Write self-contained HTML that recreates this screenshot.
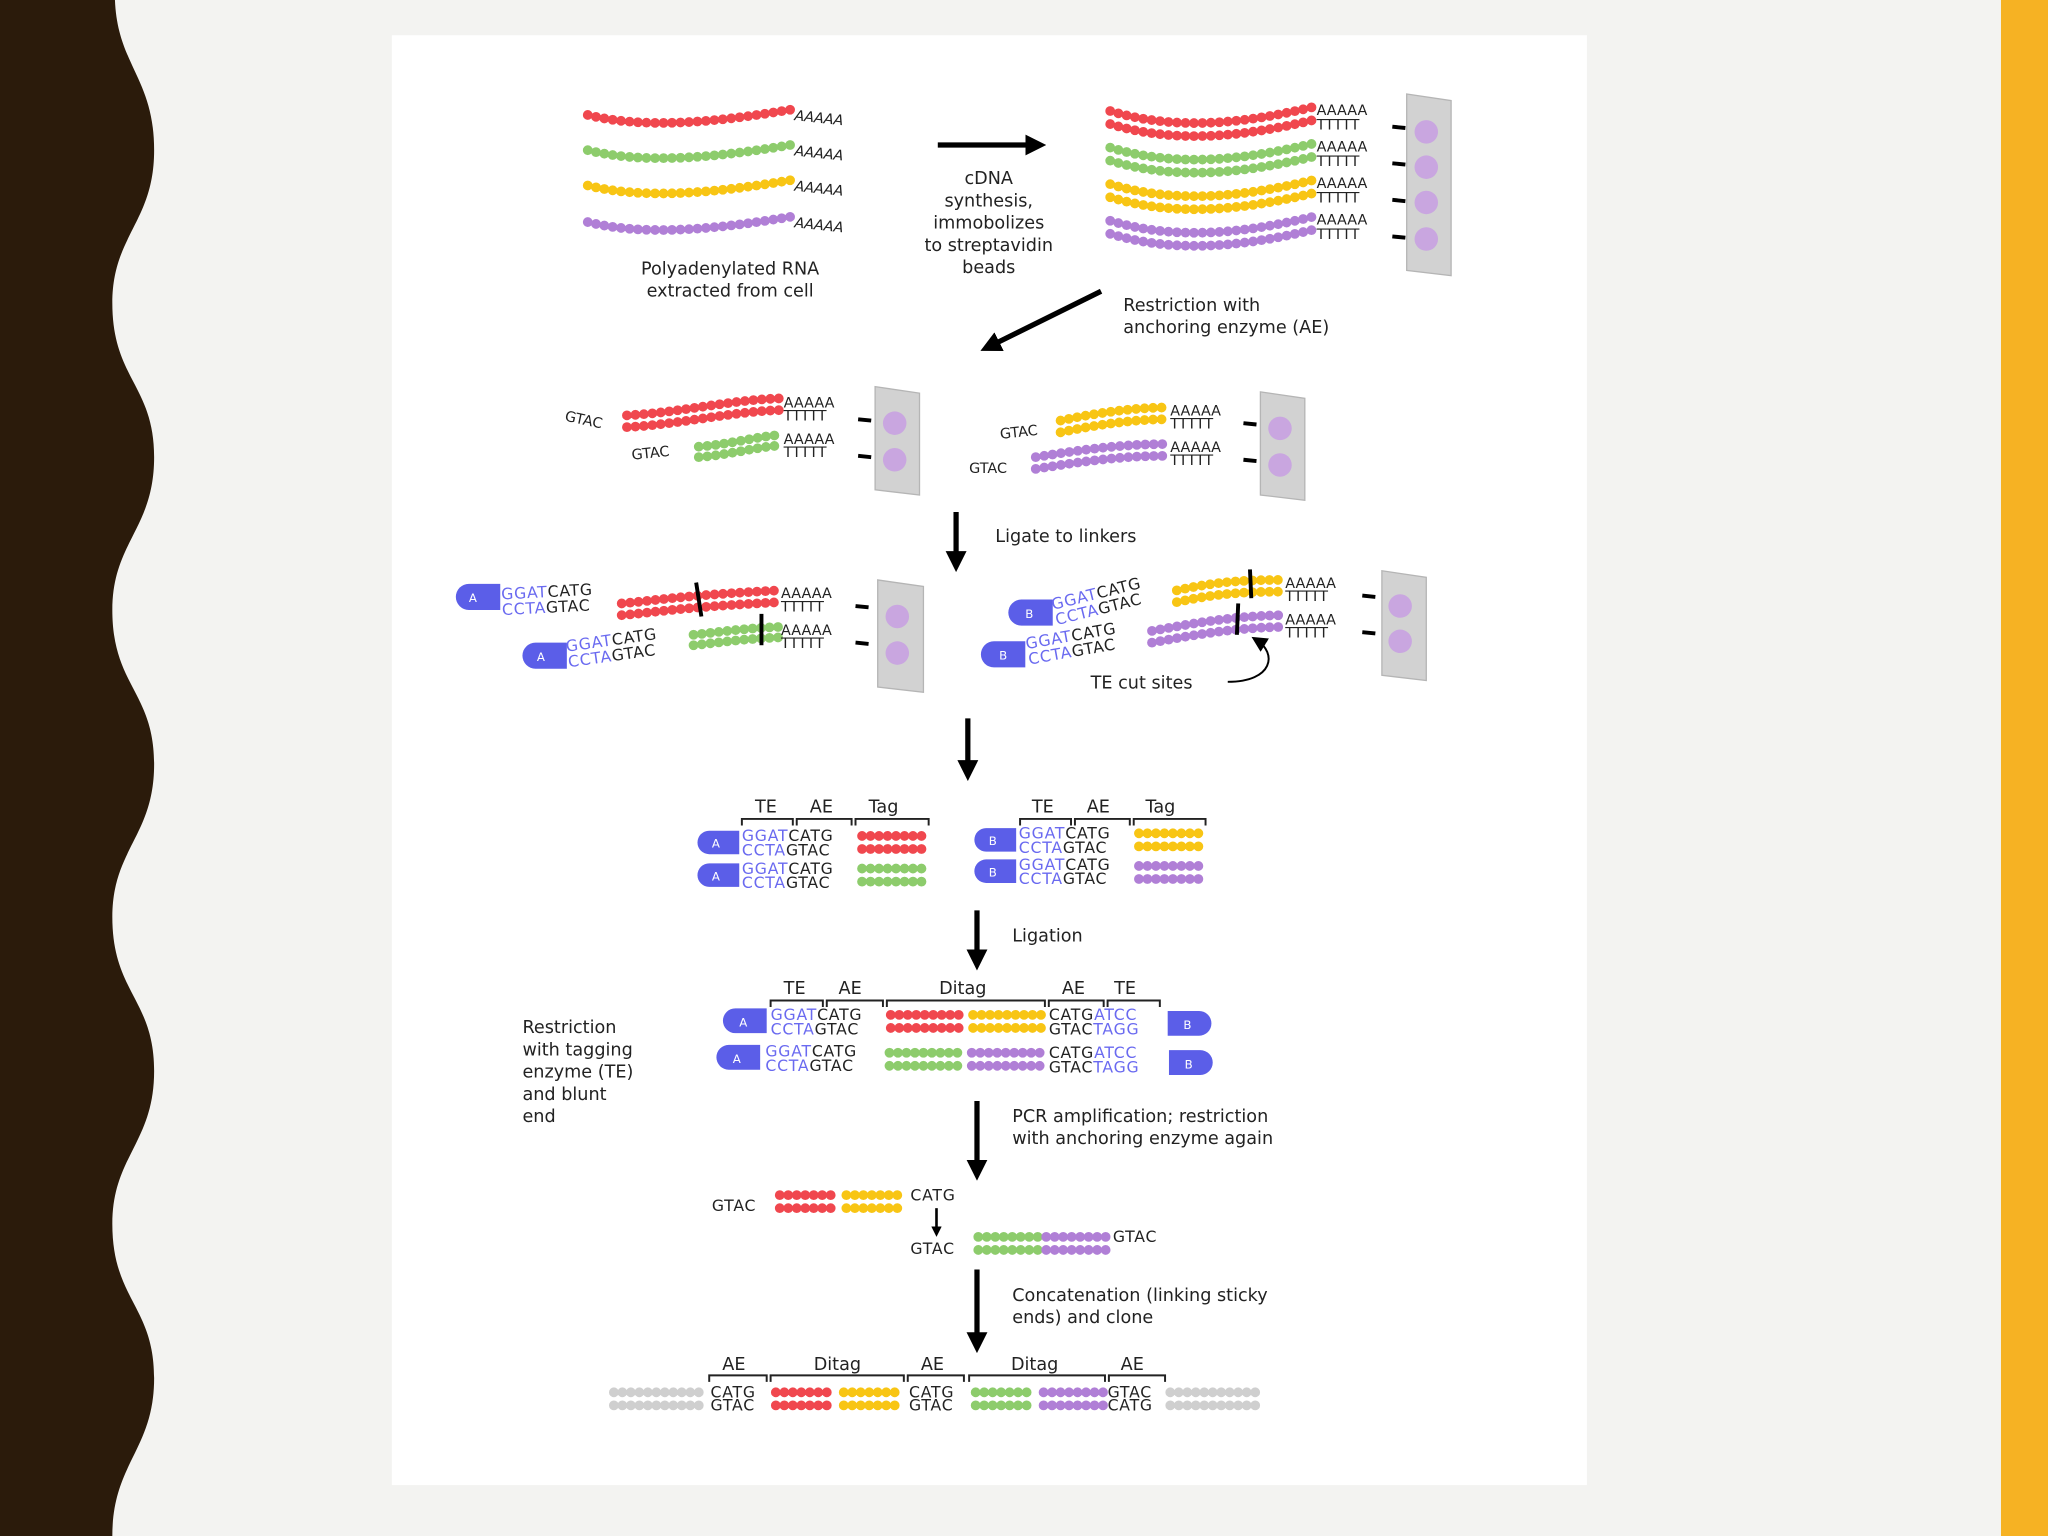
<!DOCTYPE html>
<html><head><meta charset="utf-8"><style>
html,body{margin:0;padding:0;background:#f3f3f1;}
svg{display:block}
text{font-family:"DejaVu Sans","Liberation Sans",sans-serif;fill:#222}
.s{fill:none;stroke-width:7.5;stroke-dasharray:0 6.5;stroke-linecap:round}
.r{stroke:#f0474e}.g{stroke:#8dcc6c}.y{stroke:#f8c514}.p{stroke:#b07fd6}.gr{stroke:#cfcfcf}
.t{font-size:13.5px}
.q{font-size:12px;letter-spacing:0.6px}
.b{fill:#6a6af0}
.cap{fill:#5b5ee8}
.plate{fill:#d2d2d2;stroke:#b5b5b5;stroke-width:1}
.bead{fill:#c9a6e0}
.br{fill:none;stroke:#222;stroke-width:1.5}
.ar{stroke:#000;stroke-width:4}
</style></head><body>
<svg width="2048" height="1536" viewBox="0 0 1568 1176" preserveAspectRatio="none" xmlns="http://www.w3.org/2000/svg">
<defs><marker id="ah" markerWidth="4" markerHeight="4" refX="2.5" refY="2" orient="auto" markerUnits="strokeWidth"><path d="M0,0 L4,2 L0,4 z" fill="#000"/></marker>
<marker id="ah2" markerWidth="8" markerHeight="8" refX="5" refY="4" orient="auto" markerUnits="strokeWidth"><path d="M0,0 L8,4 L0,8 z" fill="#000"/></marker></defs>
<rect width="1568" height="1176" fill="#f3f3f1"/>
<path d="M0,0 L88,0 C90,50 118,60 118,115 C118,170 86,180 86,232 C86,290 118,295 118,350 C118,405 86,415 86,467 C86,525 118,530 118,585 C118,640 86,650 86,702 C86,760 118,765 118,820 C118,875 86,885 86,937 C86,995 118,1000 118,1055 C118,1110 86,1120 86,1176 L0,1176 Z" fill="#2b1b0b"/>
<rect x="1532" y="0" width="36" height="1176" fill="#f6b223"/>
<rect x="300" y="27" width="915" height="1110" fill="#fff"/>

<g>
<path class="s r" d="M450,88 C490,98 540,95 605,84"/>
<path class="s g" d="M450,115 C490,125 540,122 605,111"/>
<path class="s y" d="M450,142 C490,152 540,149 605,138"/>
<path class="s p" d="M450,170 C490,180 540,177 605,166"/>
<text x="608" y="92" font-size="11" font-style="italic" transform="rotate(6 608 92)">AAAAA</text>
<text x="608" y="119" font-size="11" font-style="italic" transform="rotate(6 608 119)">AAAAA</text>
<text x="608" y="146" font-size="11" font-style="italic" transform="rotate(6 608 146)">AAAAA</text>
<text x="608" y="174" font-size="11" font-style="italic" transform="rotate(6 608 174)">AAAAA</text>
<text class="t" x="559" y="210" text-anchor="middle">Polyadenylated RNA</text>
<text class="t" x="559" y="227" text-anchor="middle">extracted from cell</text>
<line class="ar" x1="718" y1="111" x2="795" y2="111" marker-end="url(#ah)"/>
<g class="t" text-anchor="middle"><text x="757" y="141">cDNA</text><text x="757" y="158">synthesis,</text><text x="757" y="175">immobolizes</text><text x="757" y="192">to streptavidin</text><text x="757" y="209">beads</text></g>
</g>
<g>
<path class="s r" d="M850,85 C900,100 950,95 1005,82"/><path class="s r" d="M850,95 C900,110 950,105 1005,92"/>
<path class="s g" d="M850,113 C900,128 950,123 1005,110"/><path class="s g" d="M850,123 C900,138 950,133 1005,120"/>
<path class="s y" d="M850,141 C900,156 950,151 1005,138"/><path class="s y" d="M850,151 C900,166 950,161 1005,148"/>
<path class="s p" d="M850,169 C900,184 950,179 1005,166"/><path class="s p" d="M850,179 C900,194 950,189 1005,176"/>
<g font-size="11"><text x="1008" y="88">AAAAA</text><text x="1008" y="99">TTTTT</text>
<text x="1008" y="116">AAAAA</text><text x="1008" y="127">TTTTT</text>
<text x="1008" y="144">AAAAA</text><text x="1008" y="155">TTTTT</text>
<text x="1008" y="172">AAAAA</text><text x="1008" y="183">TTTTT</text></g>
<g stroke="#000" stroke-width="3"><line x1="1066" y1="97" x2="1076" y2="98"/><line x1="1066" y1="125" x2="1076" y2="126"/><line x1="1066" y1="153" x2="1076" y2="154"/><line x1="1066" y1="181" x2="1076" y2="182"/></g>
<path class="plate" d="M1077,72 L1111,77 L1111,211 L1077,207 Z"/>
<circle class="bead" cx="1092" cy="101" r="9"/><circle class="bead" cx="1092" cy="128" r="9"/><circle class="bead" cx="1092" cy="155" r="9"/><circle class="bead" cx="1092" cy="183" r="9"/>
</g>
<line class="ar" x1="843" y1="223" x2="756" y2="266" stroke-width="3.5" marker-end="url(#ah)"/>
<text class="t" x="860" y="238">Restriction with</text>
<text class="t" x="860" y="255">anchoring enzyme (AE)</text>

<g>
<text x="432" y="322" font-size="11" transform="rotate(12 432 322)">GTAC</text>
<path class="s r" d="M480,318 C520,316 560,306 598,305"/><path class="s r" d="M480,327 C520,325 560,315 598,314"/>
<text x="484" y="352" font-size="11" transform="rotate(-6 484 352)">GTAC</text>
<path class="s g" d="M535,342 C560,340 580,334 598,333"/><path class="s g" d="M535,350 C560,348 580,342 598,341"/>
<g font-size="11"><text x="600" y="312">AAAAA</text><text x="600" y="322">TTTTT</text><text x="600" y="340">AAAAA</text><text x="600" y="350">TTTTT</text></g>
<g stroke="#000" stroke-width="3"><line x1="657" y1="321" x2="667" y2="322"/><line x1="657" y1="349" x2="667" y2="350"/></g>
<path class="plate" d="M670,296 L704,301 L704,379 L670,375 Z"/>
<circle class="bead" cx="685" cy="324" r="9"/><circle class="bead" cx="685" cy="352" r="9"/>

<text x="766" y="336" font-size="11" transform="rotate(-6 766 336)">GTAC</text>
<path class="s y" d="M812,322 C840,316 870,312 893,312"/><path class="s y" d="M812,331 C840,325 870,321 893,321"/>
<text x="742" y="362" font-size="11">GTAC</text>
<path class="s p" d="M793,350 C830,344 860,340 893,340"/><path class="s p" d="M793,359 C830,353 860,349 893,349"/>
<g font-size="11"><text x="896" y="318">AAAAA</text><text x="896" y="328">TTTTT</text><text x="896" y="346">AAAAA</text><text x="896" y="356">TTTTT</text></g>
<g stroke="#000" stroke-width="3"><line x1="952" y1="324" x2="962" y2="325"/><line x1="952" y1="352" x2="962" y2="353"/></g>
<path class="plate" d="M965,300 L999,305 L999,383 L965,379 Z"/>
<circle class="bead" cx="980" cy="328" r="9"/><circle class="bead" cx="980" cy="356" r="9"/>
</g>
<line class="ar" x1="732" y1="392" x2="732" y2="432" marker-end="url(#ah)"/>
<text class="t" x="762" y="415">Ligate to linkers</text>

<g>
<path class="cap" d="M359,447 L383,447 L383,467 L359,467 A10,10 0 0 1 359,447 Z"/><text x="359" y="461" font-size="9" style="fill:#fff">A</text>
<g transform="rotate(-3 384 460)"><text class="q" x="384" y="459"><tspan class="b">GGAT</tspan>CATG</text><text class="q" x="384" y="471"><tspan class="b">CCTA</tspan>GTAC</text></g>
<path class="s r" d="M476,462 C500,460 520,456 597,452"/><path class="s r" d="M476,471 C500,469 520,465 597,461"/>
<line x1="533" y1="446" x2="537" y2="472" stroke="#000" stroke-width="3"/>
<path class="cap" d="M410,492 L434,492 L434,512 L410,512 A10,10 0 0 1 410,492 Z"/><text x="411" y="506" font-size="9" style="fill:#fff">A</text>
<g transform="rotate(-8 434 500)"><text class="q" x="434" y="499"><tspan class="b">GGAT</tspan>CATG</text><text class="q" x="434" y="511"><tspan class="b">CCTA</tspan>GTAC</text></g>
<path class="s g" d="M531,486 C550,484 570,481 597,480"/><path class="s g" d="M531,494 C550,492 570,489 597,488"/>
<line x1="583" y1="470" x2="583" y2="494" stroke="#000" stroke-width="3"/>
<g font-size="11"><text x="598" y="458">AAAAA</text><text x="598" y="468">TTTTT</text><text x="598" y="486">AAAAA</text><text x="598" y="496">TTTTT</text></g>
<g stroke="#000" stroke-width="3"><line x1="655" y1="464" x2="665" y2="465"/><line x1="655" y1="492" x2="665" y2="493"/></g>
<path class="plate" d="M672,444 L707,449 L707,530 L672,526 Z"/>
<circle class="bead" cx="687" cy="472" r="9"/><circle class="bead" cx="687" cy="500" r="9"/>

<path class="cap" d="M782,459 L806,459 L806,479 L782,479 A10,10 0 0 1 782,459 Z"/><text x="785" y="473" font-size="9" style="fill:#fff">B</text>
<g transform="rotate(-14 806 466)"><text class="q" x="806" y="467"><tspan class="b">GGAT</tspan>CATG</text><text class="q" x="806" y="479"><tspan class="b">CCTA</tspan>GTAC</text></g>
<path class="s y" d="M901,452 C920,448 940,444 980,444"/><path class="s y" d="M901,461 C920,457 940,453 980,453"/>
<line x1="957" y1="436" x2="958" y2="458" stroke="#000" stroke-width="3"/>
<path class="cap" d="M761,491 L785,491 L785,511 L761,511 A10,10 0 0 1 761,491 Z"/><text x="765" y="505" font-size="9" style="fill:#fff">B</text>
<g transform="rotate(-10 786 497)"><text class="q" x="786" y="497"><tspan class="b">GGAT</tspan>CATG</text><text class="q" x="786" y="509"><tspan class="b">CCTA</tspan>GTAC</text></g>
<path class="s p" d="M882,483 C910,478 940,472 980,471"/><path class="s p" d="M882,492 C910,487 940,481 980,480"/>
<line x1="948" y1="462" x2="947" y2="486" stroke="#000" stroke-width="3"/>
<g font-size="11"><text x="984" y="450">AAAAA</text><text x="984" y="460">TTTTT</text><text x="984" y="478">AAAAA</text><text x="984" y="488">TTTTT</text></g>
<g stroke="#000" stroke-width="3"><line x1="1043" y1="456" x2="1053" y2="457"/><line x1="1043" y1="484" x2="1053" y2="485"/></g>
<path class="plate" d="M1058,437 L1092,442 L1092,521 L1058,517 Z"/>
<circle class="bead" cx="1072" cy="464" r="9"/><circle class="bead" cx="1072" cy="491" r="9"/>
<text class="t" x="835" y="527">TE cut sites</text>
<path d="M940,522 C975,522 978,500 962,490" fill="none" stroke="#000" stroke-width="1.5" marker-end="url(#ah2)"/>
</g>
<line class="ar" x1="741" y1="550" x2="741" y2="592" marker-end="url(#ah)"/>

<g>
<g class="t"><text x="578" y="622">TE</text><text x="620" y="622">AE</text><text x="665" y="622">Tag</text></g>
<path class="br" d="M568,632 V627 H607 V632 M610,632 V627 H652 V632 M655,632 V627 H711 V632"/>
<path class="cap" d="M543,636 L566,636 L566,654 L543,654 A9,9 0 0 1 543,636 Z"/><text x="545" y="649" font-size="9" style="fill:#fff">A</text>
<text class="q" x="568" y="644"><tspan class="b">GGAT</tspan>CATG</text><text class="q" x="568" y="655"><tspan class="b">CCTA</tspan>GTAC</text>
<path class="s r" d="M660,640 H711"/><path class="s r" d="M660,650 H711"/>
<path class="cap" d="M543,661 L566,661 L566,679 L543,679 A9,9 0 0 1 543,661 Z"/><text x="545" y="674" font-size="9" style="fill:#fff">A</text>
<text class="q" x="568" y="669"><tspan class="b">GGAT</tspan>CATG</text><text class="q" x="568" y="680"><tspan class="b">CCTA</tspan>GTAC</text>
<path class="s g" d="M660,665 H711"/><path class="s g" d="M660,675 H711"/>
</g>
<g>
<g class="t"><text x="790" y="622">TE</text><text x="832" y="622">AE</text><text x="877" y="622">Tag</text></g>
<path class="br" d="M781,632 V627 H820 V632 M823,632 V627 H865 V632 M868,632 V627 H923 V632"/>
<path class="cap" d="M755,634 L778,634 L778,652 L755,652 A9,9 0 0 1 755,634 Z"/><text x="757" y="647" font-size="9" style="fill:#fff">B</text>
<text class="q" x="780" y="642"><tspan class="b">GGAT</tspan>CATG</text><text class="q" x="780" y="653"><tspan class="b">CCTA</tspan>GTAC</text>
<path class="s y" d="M872,638 H923"/><path class="s y" d="M872,648 H923"/>
<path class="cap" d="M755,658 L778,658 L778,676 L755,676 A9,9 0 0 1 755,658 Z"/><text x="757" y="671" font-size="9" style="fill:#fff">B</text>
<text class="q" x="780" y="666"><tspan class="b">GGAT</tspan>CATG</text><text class="q" x="780" y="677"><tspan class="b">CCTA</tspan>GTAC</text>
<path class="s p" d="M872,663 H923"/><path class="s p" d="M872,673 H923"/>
</g>
<line class="ar" x1="748" y1="697" x2="748" y2="737" marker-end="url(#ah)"/>
<text class="t" x="775" y="721">Ligation</text>

<g class="t"><text x="600" y="761">TE</text><text x="642" y="761">AE</text><text x="719" y="761">Ditag</text><text x="813" y="761">AE</text><text x="853" y="761">TE</text></g>
<path class="br" d="M590,771 V766 H630 V771 M633,771 V766 H676 V771 M679,771 V766 H800 V771 M803,771 V766 H845 V771 M848,771 V766 H888 V771"/>
<path class="cap" d="M563,772 L587,772 L587,791 L563,791 A9.5,9.5 0 0 1 563,772 Z"/><text x="566" y="786" font-size="9" style="fill:#fff">A</text>
<text class="q" x="590" y="781"><tspan class="b">GGAT</tspan>CATG</text><text class="q" x="590" y="792"><tspan class="b">CCTA</tspan>GTAC</text>
<path class="s r" d="M682,777 H738"/><path class="s r" d="M682,787 H738"/>
<path class="s y" d="M745,777 H800"/><path class="s y" d="M745,787 H800"/>
<text class="q" x="803" y="781">CATG<tspan class="b">ATCC</tspan></text><text class="q" x="803" y="792">GTAC<tspan class="b">TAGG</tspan></text>
<path class="cap" d="M894,774 L918,774 A9.5,9.5 0 0 1 918,793 L894,793 Z"/><text x="906" y="788" font-size="9" style="fill:#fff">B</text>
<path class="cap" d="M558,800 L582,800 L582,819 L558,819 A9.5,9.5 0 0 1 558,800 Z"/><text x="561" y="814" font-size="9" style="fill:#fff">A</text>
<text class="q" x="586" y="809"><tspan class="b">GGAT</tspan>CATG</text><text class="q" x="586" y="820"><tspan class="b">CCTA</tspan>GTAC</text>
<path class="s g" d="M681,806 H738"/><path class="s g" d="M681,816 H738"/>
<path class="s p" d="M744,806 H800"/><path class="s p" d="M744,816 H800"/>
<text class="q" x="803" y="810">CATG<tspan class="b">ATCC</tspan></text><text class="q" x="803" y="821">GTAC<tspan class="b">TAGG</tspan></text>
<path class="cap" d="M895,804 L919,804 A9.5,9.5 0 0 1 919,823 L895,823 Z"/><text x="907" y="818" font-size="9" style="fill:#fff">B</text>
<g class="t"><text x="400" y="791">Restriction</text><text x="400" y="808">with tagging</text><text x="400" y="825">enzyme (TE)</text><text x="400" y="842">and blunt</text><text x="400" y="859">end</text></g>
<line class="ar" x1="748" y1="843" x2="748" y2="898" marker-end="url(#ah)"/>
<text class="t" x="775" y="859">PCR amplification;  restriction</text>
<text class="t" x="775" y="876">with anchoring enzyme again</text>

<text class="q" x="545" y="927">GTAC</text>
<path class="s r" d="M597,915 H642"/><path class="s r" d="M597,925 H642"/>
<path class="s y" d="M648,915 H692"/><path class="s y" d="M648,925 H692"/>
<text class="q" x="697" y="919">CATG</text>
<line x1="717" y1="925" x2="717" y2="944" stroke="#000" stroke-width="2" marker-end="url(#ah)"/>
<text class="q" x="697" y="960">GTAC</text>
<path class="s g" d="M749,947 H795"/><path class="s g" d="M749,957 H795"/>
<path class="s p" d="M801,947 H847"/><path class="s p" d="M801,957 H847"/>
<text class="q" x="852" y="951">GTAC</text>
<line class="ar" x1="748" y1="972" x2="748" y2="1030" marker-end="url(#ah)"/>
<text class="t" x="775" y="996">Concatenation (linking sticky</text>
<text class="t" x="775" y="1013">ends) and clone</text>

<g class="t"><text x="553" y="1049">AE</text><text x="623" y="1049">Ditag</text><text x="705" y="1049">AE</text><text x="774" y="1049">Ditag</text><text x="858" y="1049">AE</text></g>
<path class="br" d="M543,1058 V1053 H587 V1058 M590,1058 V1053 H692 V1058 M695,1058 V1053 H738 V1058 M742,1058 V1053 H846 V1058 M849,1058 V1053 H892 V1058"/>
<path class="s gr" d="M470,1066 H540"/><path class="s gr" d="M470,1076 H540"/>
<text class="q" x="544" y="1070">CATG</text><text class="q" x="544" y="1080">GTAC</text>
<path class="s r" d="M594,1066 H639"/><path class="s r" d="M594,1076 H639"/>
<path class="s y" d="M646,1066 H691"/><path class="s y" d="M646,1076 H691"/>
<text class="q" x="696" y="1070">CATG</text><text class="q" x="696" y="1080">GTAC</text>
<path class="s g" d="M747,1066 H792"/><path class="s g" d="M747,1076 H792"/>
<path class="s p" d="M799,1066 H845"/><path class="s p" d="M799,1076 H845"/>
<text class="q" x="848" y="1070">GTAC</text><text class="q" x="848" y="1080">CATG</text>
<path class="s gr" d="M896,1066 H962"/><path class="s gr" d="M896,1076 H962"/>
</svg>
</body></html>
